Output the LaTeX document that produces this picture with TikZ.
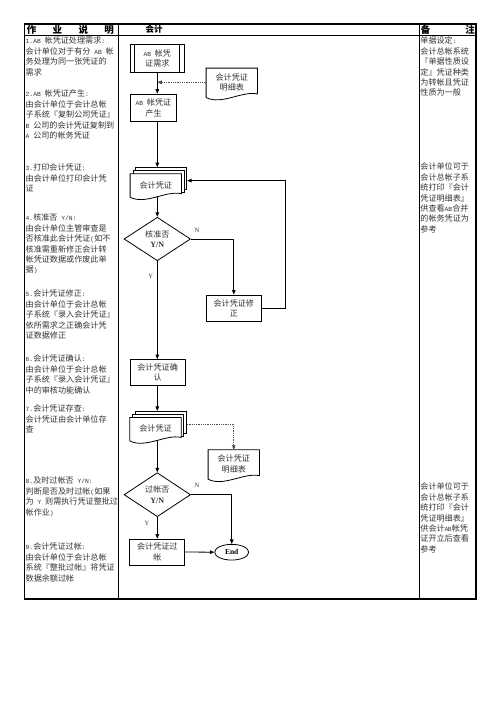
\documentclass[tikz,border=0pt]{standalone}
\usepackage{fontspec}
\setmainfont{Noto Sans CJK SC}
\newfontfamily\latfont{Liberation Mono}[Scale=0.78]
\newfontfamily\tnrfont{Liberation Serif}
\newcommand{\lat}[1]{{\latfont #1}}
\usetikzlibrary{shapes.geometric,arrows.meta,calc,backgrounds}
\newcommand{\wavedoc}[1]{%
  \draw[line width=0.8pt, fill=white] (#1.north west) -- (#1.north east) -- ($(#1.south east)+(0pt,2.5pt)$)
    .. controls ($(#1.south west)!0.7!(#1.south east)+(0pt,6pt)$) and ($(#1.south west)!0.3!(#1.south east)+(0pt,-9pt)$)
    .. ($(#1.south west)+(0pt,-1pt)$) -- cycle;}
\tikzset{
  txt/.style={font=\fontsize{8.1}{10.4}\selectfont, text=black!80, inner sep=0pt},
  note/.style={txt, anchor=north west, align=left},
  head/.style={font=\fontsize{9.5}{11}\selectfont\bfseries, inner sep=0pt},
  procbox/.style={draw, line width=0.8pt, txt, align=center, minimum width=#1, minimum height=26pt},
  procbox/.default=55pt,
  docnode/.style={txt, align=center, minimum width=51pt, minimum height=#1},
  docnode/.default=22pt,
  page/.style={draw, line width=0.8pt, fill=white, minimum width=51pt, minimum height=22pt, inner sep=0pt},
  decide/.style={diamond, draw, line width=0.8pt, txt, align=center, aspect=1.5, minimum width=66.5pt, minimum height=43.5pt},
  lbl/.style={font=\fontsize{6.5}{7}\selectfont\tnrfont, text=black!80, inner sep=0pt},
  flow/.style={line width=0.8pt, -{Triangle[length=4.5pt,width=3.6pt]}},
  dots/.style={flow, densely dotted, draw=black!70},
}
\begin{document}
\begin{tikzpicture}[x=1pt,y=-1pt]
\useasboundingbox (0,0) rectangle (496,702);
\draw[line width=1.2pt] (24.4,24) rectangle (476,599);
\draw[line width=1pt] (24.4,35) -- (476,35);
\draw[line width=1pt] (118.4,24) -- (118.4,599) (419.3,24) -- (419.3,599);

\node[head] (hdesc) at (70.4,29.6) {\makebox[87pt]{作\hfill 业\hfill 说\hfill 明}};
\node[head, font=\fontsize{8.5}{10}\selectfont\bfseries] (hacct) at (154.2,29.6) {会计};
\node[head] (hnote) at (447.9,29.6) {\makebox[54pt]{备\hfill 注}};

\node[note] (step1) at (25.5,36.9) {\lat{1.AB }帐凭证处理需求\lat{:}\\会计单位对于有分\lat{ AB }帐\\务处理为同一张凭证的\\需求};
\node[note] (step2) at (25.5,89.9) {\lat{2.AB }帐凭证产生\lat{:}\\由会计单位于会计总帐\\子系统『复制公司凭证』\\\lat{B }公司的会计凭证复制到\\\lat{A }公司的帐务凭证};
\node[note] (step3) at (25.5,163.9) {\lat{3.}打印会计凭证\lat{:}\\由会计单位打印会计凭\\证};
\node[note] (step4) at (25.5,213.9) {\lat{4.}核准否\lat{ Y/N:}\\由会计单位主管审查是\\否核准此会计凭证\lat{(}如不\\核准需重新修正会计转\\帐凭证数据或作废此单\\据\lat{)}};
\node[note] (step5) at (25.5,289.9) {\lat{5.}会计凭证修正\lat{:}\\由会计单位于会计总帐\\子系统『录入会计凭证』\\依所需求之正确会计凭\\证数据修正};
\node[note] (step6) at (25.5,354.9) {\lat{6.}会计凭证确认\lat{:}\\由会计单位于会计总帐\\子系统『录入会计凭证』\\中的审核功能确认};
\node[note] (step7) at (25.5,404.9) {\lat{7.}会计凭证存查\lat{:}\\会计凭证由会计单位存\\查};
\node[note] (step8) at (25.5,476.9) {\lat{8.}及时过帐否\lat{ Y/N:}\\判断是否及时过帐\lat{(}如果\\为\lat{ Y }则需执行凭证整批过\\帐作业\lat{)}};
\node[note] (step9) at (25.5,542.9) {\lat{9.}会计凭证过帐\lat{:}\\由会计单位于会计总帐\\系统『整批过帐』将凭证\\数据余额过帐};

\node[note] (note1) at (420.2,36.9) {单据设定\lat{:}\\会计总帐系统\\『单据性质设\\定』凭证种类\\为转帐且凭证\\性质为一般};
\node[note] (note2) at (420.2,162.9) {会计单位可于\\会计总帐子系\\统打印『会计\\凭证明细表』\\供查看\lat{AB}合并\\的帐务凭证为\\参考};
\node[note] (note3) at (420.2,482.9) {会计单位可于\\会计总帐子系\\统打印『会计\\凭证明细表』\\供会计\lat{A\kern-0.5pt B}帐凭\\证开立后查看\\参考};

\node[procbox=53.3pt, minimum height=28pt] (need) at (157.3,58.3) {\lat{AB }帐凭\\证需求};
\draw[line width=0.8pt] ([xshift=4.6pt]need.north west) -- ([xshift=4.6pt]need.south west)
  ([xshift=-4.6pt]need.north east) -- ([xshift=-4.6pt]need.south east);
\node[docnode=28pt] (detail1) at (231.8,82.3) {会计凭证\\明细表};
\begin{pgfonlayer}{background}
  \wavedoc{detail1}
\end{pgfonlayer}
\node[procbox=46.4pt, minimum height=27.7pt] (produce) at (153.5,107.9) {\lat{AB }帐凭证\\产生};

\node[docnode] (v1) at (155.8,185) {会计凭证};
\begin{pgfonlayer}{background}
  \node[page] (v1c) at (161.2,178.6) {};
  \node[page] (v1b) at (158.5,181.8) {};
  \wavedoc{v1}
\end{pgfonlayer}

\node[decide] (d1) at (157.3,239) {核准否\\{\tnrfont\bfseries Y/N}};
\node[procbox] (fix) at (233.8,308) {会计凭证修\\正};
\node[procbox] (confirm) at (157.6,372.5) {会计凭证确\\认};

\node[docnode] (v2) at (155.5,428.7) {会计凭证};
\begin{pgfonlayer}{background}
  \node[page] (v2c) at (160.9,422.3) {};
  \node[page] (v2b) at (158.2,425.5) {};
  \wavedoc{v2}
\end{pgfonlayer}
\node[docnode=28pt] (detail2) at (233.8,464) {会计凭证\\明细表};
\begin{pgfonlayer}{background}
  \wavedoc{detail2}
\end{pgfonlayer}

\node[decide, minimum height=44pt] (d2) at (157.3,494.7) {过帐否\\{\tnrfont\bfseries Y/N}};
\node[procbox] (post) at (157.3,552) {会计凭证过\\帐};
\node[ellipse, draw, line width=0.8pt, minimum width=34pt, minimum height=15.7pt, inner sep=0pt,
  font={\tnrfont\bfseries\fontsize{7.5}{8}\selectfont}] (end) at (231.7,552.2) {End};

\node[lbl] (n1) at (197,230) {N};
\node[lbl] (y1) at (150.7,276.7) {Y};
\node[lbl] (n2) at (197,485.7) {N};
\node[lbl] (y2) at (147,523.3) {Y};

\draw[flow] (need.south) -- (need.south |- produce.north);
\draw[dots] (detail1.west) -- (detail1.west -| need.south);
\draw[flow] (produce.south -| need.south) -- (need.south |- v1c.north);
\draw[flow] (d1.north |- v1.south) -- (d1.north);
\draw[flow] (d1.east) -| (fix.north);
\draw[flow] (fix.east) -- ++(23.4,0) |- ([yshift=-2pt]v1c.east);
\draw[flow] (d1.south) -- (d1.south |- confirm.north);
\draw[flow] (d1.south |- confirm.south) -- (d1.south |- v2c.north);
\draw[dots] ([yshift=-2pt]v2c.east) -| (detail2.north);
\draw[flow] (d2.north |- v2.south) -- (d2.north);
\draw[flow] (d2.east) -| (end.north);
\draw[flow] (d2.south) -- (post.north);
\draw[flow] (post.east) -- (end.west);
\end{tikzpicture}
\end{document}
